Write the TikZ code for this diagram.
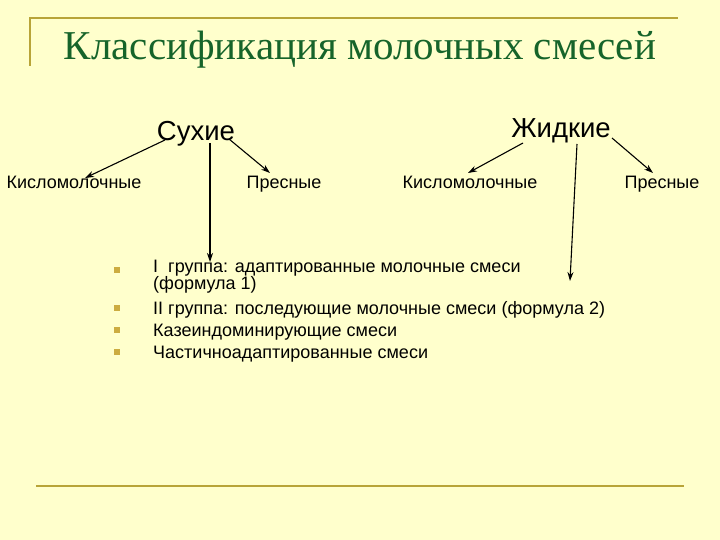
\documentclass[tikz,border=0pt]{standalone}
\usepackage{fontspec}
\setmainfont{Liberation Sans}
\newfontfamily\titlefont{Liberation Serif}
\usetikzlibrary{arrows.meta,calc}
\definecolor{slidebg}{RGB}{255,255,204}
\definecolor{framegold}{RGB}{184,164,56}
\definecolor{bulletgold}{RGB}{204,172,64}
\definecolor{titlegreen}{RGB}{22,100,42}
\tikzset{
  titlebox/.style={font=\titlefont\fontsize{41}{46}\selectfont,text=titlegreen,inner sep=0pt},
  kindbox/.style={font=\fontsize{27.5}{30}\selectfont,inner sep=0pt,anchor=base},
  subbox/.style={font=\fontsize{18}{20}\selectfont,inner sep=0pt,anchor=base},
  itembox/.style={font=\fontsize{18}{17}\selectfont,inner sep=0pt,anchor=base west,align=left},
  bulletsq/.style={rectangle,fill=bulletgold,minimum size=6pt,inner sep=0pt},
  framerule/.style={draw=framegold,line width=2.5pt},
  fl/.style={-{Stealth[length=9pt,width=6pt]},draw=black,line width=1.1pt},
}
\begin{document}
\begin{tikzpicture}[x=1pt,y=-1pt]
  \fill[slidebg] (0,0) rectangle (720,540);
  \useasboundingbox (0,0) rectangle (720,540);
  % slide frame
  \draw[framerule] (30,66) -- (30,18) -- (678,18);
  \draw[framerule] (36,486) -- (684,486);
  \node[titlebox] (title) at (360,50) {Классификация молочных смесей};
  % two kinds
  \node[kindbox] (suh) at (196,141) {Сухие};
  \node[kindbox] (zhid) at (561,138) {Жидкие};
  \node[subbox] (kl1) at (74,189) {Кисломолочные};
  \node[subbox] (pr1) at (284,189) {Пресные};
  \node[subbox] (kl2) at (470,189) {Кисломолочные};
  \node[subbox] (pr2) at (662,189) {Пресные};
  % groups list
  \node[itembox,anchor=north west] (it1) at (153,260) {I\ \ группа: адаптированные молочные смеси\\(формула 1)};
  \node[itembox] (it2) at (153,314) {II группа: последующие молочные смеси (формула 2)};
  \node[itembox] (it3) at (153,336) {Казеиндоминирующие смеси};
  \node[itembox] (it4) at (153,358) {Частичноадаптированные смеси};
  \foreach \y/\n in {270/1,308/2,330/3,352/4}{\node[bulletsq] (b\n) at (117,\y) {};}
  \coordinate (ztip) at (570,281);
  \draw[fl] ($(suh.base)+(-31,-1)$) -- ($(kl1.base)+(11,-11)$);
  \draw[fl] ($(suh.base)+(33,-2)$) -- ($(pr1.base)+(-14,-16)$);
  \draw[fl] ($(suh.base)+(14,2)$) -- ($(it1.north west)+(57,2)$);
  \draw[fl] ($(zhid.base)+(-38,5)$) -- ($(kl2.base)+(-2,-16)$);
  \draw[fl] ($(zhid.base)+(51,0)$) -- ($(pr2.base)+(-9,-16)$);
  \draw[fl] ($(zhid.base)+(16,6)$) -- (ztip);
\end{tikzpicture}
\end{document}
